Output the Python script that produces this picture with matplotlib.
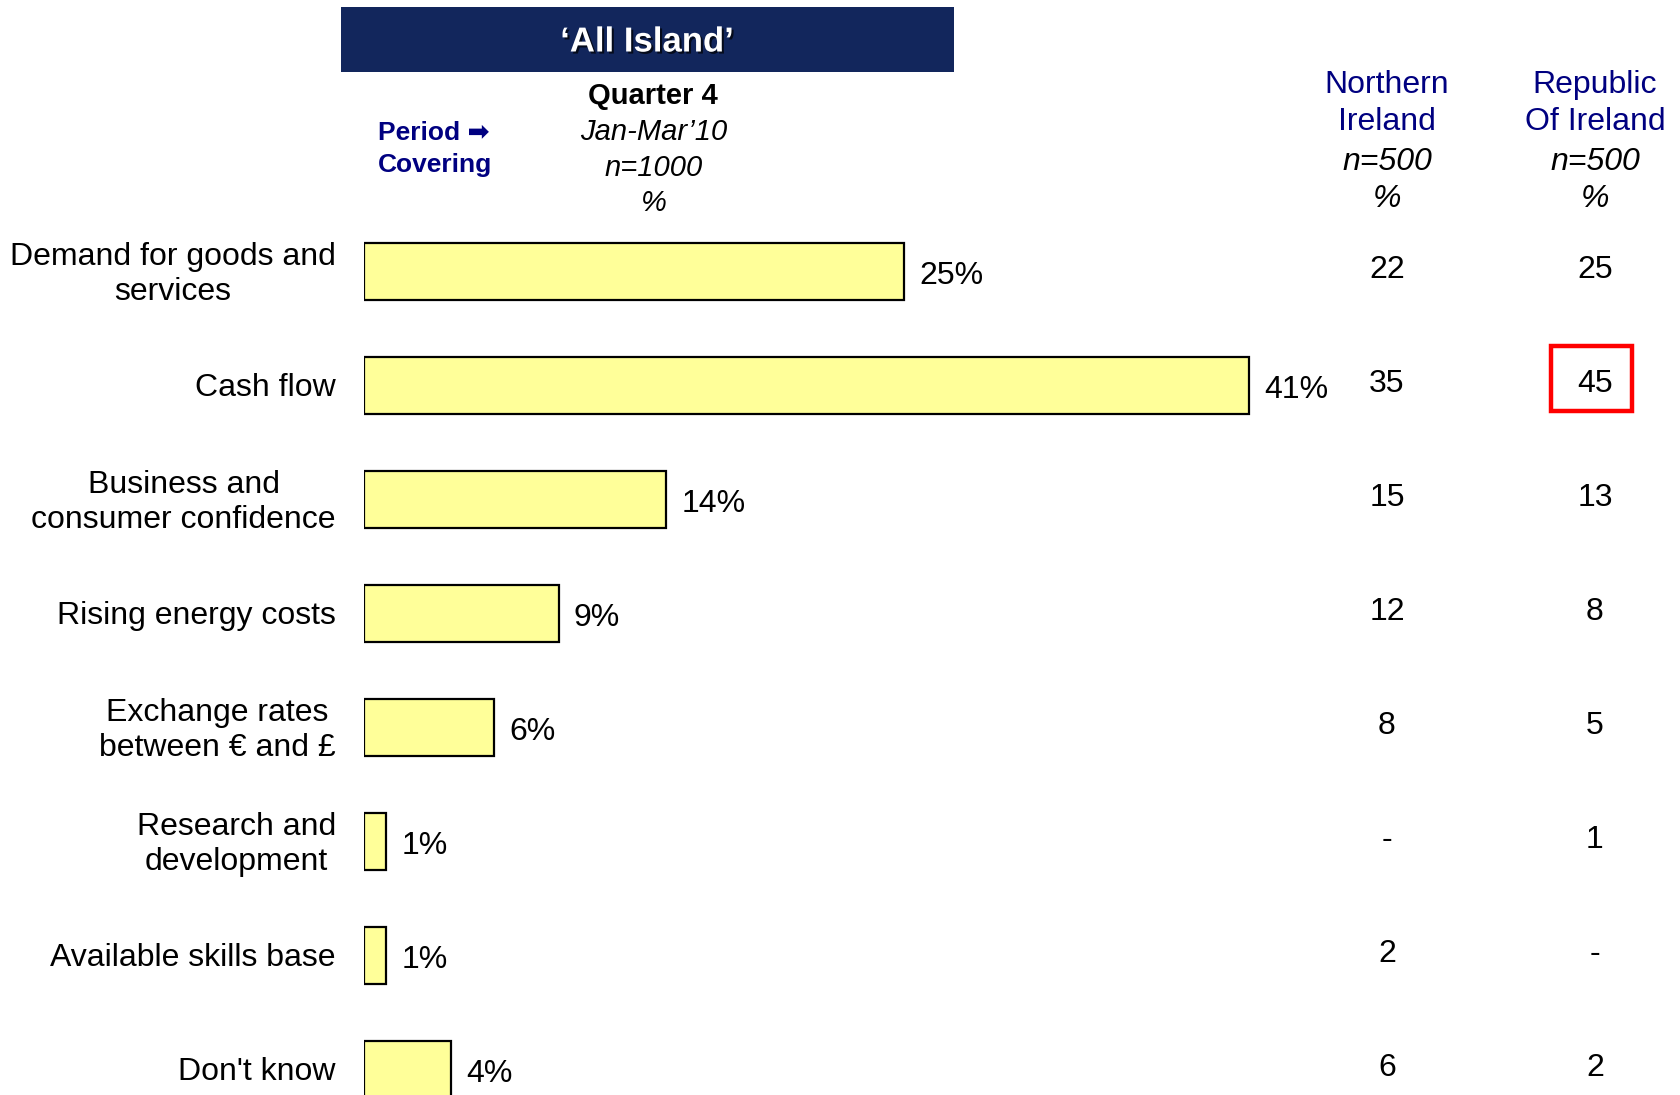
import numpy as np
import matplotlib.pyplot as plt
import matplotlib.patheffects as pe
from matplotlib.patches import Rectangle
from matplotlib.transforms import blended_transform_factory

plt.rcParams['font.family'] = ['Liberation Sans', 'DejaVu Sans']

#data
categories = ['Demand for goods and\nservices', 'Cash flow', 'Business and\nconsumer confidence',
              'Rising energy costs', 'Exchange rates\nbetween \u20ac and \u00a3', 'Research and\ndevelopment',
              'Available skills base', "Don't know"]
all_island = [25, 41, 14, 9, 6, 1, 1, 4]
northern_ireland = ['22', '35', '15', '12', '8', '-', '2', '6']
republic_ireland = ['25', '45', '13', '8', '5', '1', '-', '2']
highlight_row = 1   # ROI value boxed in red

W, H = 1681, 1095
navy = '#000080'

def fx(px):
    return px / W

def fy(py):
    return 1 - py / H

fig = plt.figure(figsize=(W/100, H/100), dpi=100)

# bar axes, x in %, y in rows
left = 364.5
px_per_pct = 21.57
row0, row_step = 271.5, 114.0
ax = fig.add_axes([fx(left), 0, 1 - fx(left), 1])
ax.set_xlim(0, (W - left) / px_per_pct)
ax.set_ylim((H - row0) / row_step, -row0 / row_step)
ax.axis('off')

rows = np.arange(len(categories))
bars = ax.barh(rows, all_island, height=0.5, color='#FFFF99', edgecolor='black', linewidth=1.6)
anns = ax.bar_label(bars, labels=[f'{v}%' for v in all_island], padding=11, fontsize=23)
for a in anns:
    a.xyann = (11, -3.5)

tr = blended_transform_factory(fig.transFigure, ax.transData)
for i, cat in enumerate(categories):
    ax.text(fx(336), i + 0.025, cat, transform=tr, ha='right', va='center', multialignment='center', fontsize=23)
    ax.text(fx(1387), i - 0.01, northern_ireland[i], transform=tr, ha='center', va='center', fontsize=23)
    ax.text(fx(1595), i - 0.01, republic_ireland[i], transform=tr, ha='center', va='center', fontsize=23)

# red box
box = Rectangle((fx(1551), highlight_row - 0.35), fx(81), 0.57, transform=tr,
                fill=False, edgecolor='#FF0000', linewidth=3.2, clip_on=False)
ax.add_patch(box)

# header banner
fig.patches.append(Rectangle((fx(341), fy(72)), fx(954 - 341), 65/H, transform=fig.transFigure,
                             facecolor='#12265C', edgecolor='none'))
fig.text(fx(647), fy(42), '\u2018All Island\u2019', ha='center', va='center', color='white',
         fontsize=25, fontweight='bold',
         path_effects=[pe.withSimplePatchShadow(offset=(1.5, -1.5), shadow_rgbFace='black', alpha=0.7)])

fig.text(fx(653), fy(96), 'Quarter 4', ha='center', va='center', fontsize=21, fontweight='bold')
fig.text(fx(654), fy(132), 'Jan-Mar\u201910', ha='center', va='center', fontsize=21, style='italic')
fig.text(fx(654), fy(168), 'n=1000', ha='center', va='center', fontsize=21, style='italic')
fig.text(fx(654), fy(203), '%', ha='center', va='center', fontsize=21, style='italic')

fig.text(fx(378), fy(133), 'Period \u27a1', ha='left', va='center', fontsize=19, fontweight='bold', color=navy)
fig.text(fx(378), fy(165), 'Covering', ha='left', va='center', fontsize=19, fontweight='bold', color=navy)

for xc, l1, l2 in [(1387, 'Northern', 'Ireland'), (1595, 'Republic', 'Of Ireland')]:
    fig.text(fx(xc), fy(85), l1, ha='center', va='center', fontsize=23, color=navy)
    fig.text(fx(xc), fy(122), l2, ha='center', va='center', fontsize=23, color=navy)
    fig.text(fx(xc), fy(162), 'n=500', ha='center', va='center', fontsize=23, style='italic')
    fig.text(fx(xc), fy(199), '%', ha='center', va='center', fontsize=23, style='italic')

fig.savefig('out.png', dpi=100, facecolor='white')
